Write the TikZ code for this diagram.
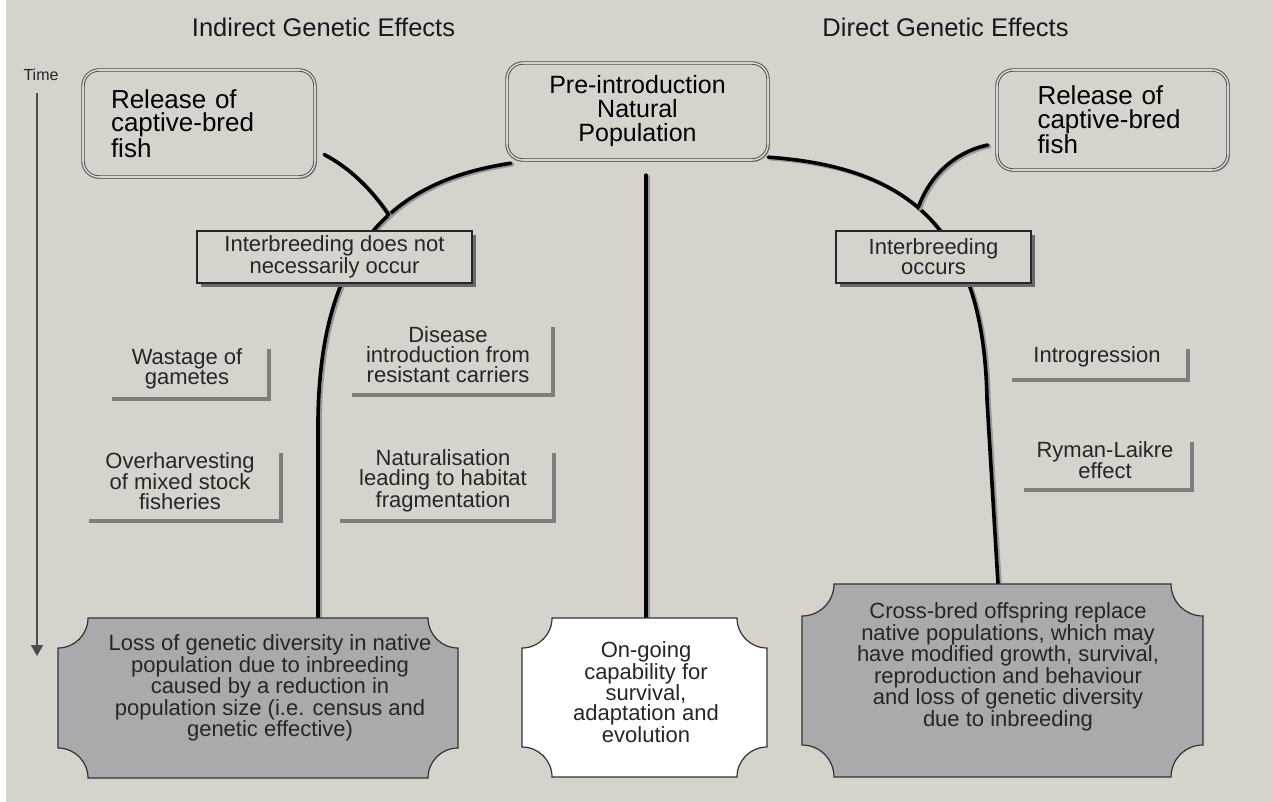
\documentclass[tikz,border=0pt]{standalone}
\usepackage{fontspec}
\setmainfont{Liberation Sans}
\usetikzlibrary{arrows.meta,calc,shadows}
\definecolor{bg}{RGB}{214,211,205}
\definecolor{boxgrey}{RGB}{170,170,172}
\definecolor{lgrey}{RGB}{128,126,122}
\definecolor{shad}{RGB}{105,105,105}
\newcommand\plaque[6]{\draw[plq,fill=#6] (#1+#5,#2) -- (#3-#5,#2) arc[start angle=180,end angle=90,radius=#5] -- (#3,#4-#5) arc[start angle=270,end angle=180,radius=#5] -- (#1+#5,#4) arc[start angle=0,end angle=-90,radius=#5] -- (#1,#2+#5) arc[start angle=90,end angle=0,radius=#5] -- cycle;}
\newcommand\conn[1]{\draw[cshadow] #1; \draw[conn] #1;}
\begin{document}
\begin{tikzpicture}[x=1pt,y=-1pt,
  title/.style={font=\fontsize{25.5}{28}\selectfont, text=black!90, inner sep=0pt},
  relbox/.style={draw=black!70, double=bg, double distance=1.6pt, line width=0.9pt, rounded corners=16pt, fill=bg, font=\fontsize{26}{23.5}\selectfont, inner sep=0pt, drop shadow={shadow xshift=2pt, shadow yshift=-2pt, fill=black!30, opacity=1}},
  ibox/.style={draw=black!85, line width=1.2pt, fill=bg, font=\fontsize{22}{20}\selectfont, align=center, inner sep=0pt, text=black!85, drop shadow={shadow xshift=4pt, shadow yshift=-4pt, fill=shad, opacity=1}},
  lbl/.style={font=\fontsize{22}{20}\selectfont, align=center, inner sep=0pt, text=black!85},
  lframe/.style={draw=lgrey, line width=4pt},
  conn/.style={line width=3.6pt, black, line cap=round},
  cshadow/.style={line width=3.6pt, black!40, line cap=round, transform canvas={xshift=2pt, yshift=-1.5pt}},
  plq/.style={draw=black!80, line width=1.2pt},
  btext/.style={font=\fontsize{22}{19.8}\selectfont, align=center, inner sep=0pt, text=black!85}
]
\fill[white] (0,0) rectangle (1273,802);
\fill[bg] (6,0) rectangle (1273,802);
\useasboundingbox (0,0) rectangle (1273,802);

% titles
\node[title] (tI) at (323.5,27) {Indirect Genetic Effects};
\node[title] (tD) at (945.5,27) {Direct Genetic Effects};

% time axis
\node[font=\fontsize{16}{18}\selectfont, text=black!85, inner sep=0pt] (time) at (41,75) {Time};
\coordinate (tend) at (37,656);
\draw[black!70, line width=1.3pt, -{Triangle[width=12pt,length=11pt]}] ($(time.south)+(-4,12)$) -- (tend);

% top boxes (placed first to name them; redrawn on top later)
\path (199,123.5) coordinate (relLc) (1112.5,120) coordinate (relRc) (637.5,111.5) coordinate (prec);
\path (relLc) node[minimum width=232pt, minimum height=107pt, inner sep=0pt] (relL) {}
      (relRc) node[minimum width=231pt, minimum height=100pt, inner sep=0pt] (relR) {}
      (prec) node[minimum width=261pt, minimum height=97pt, inner sep=0pt] (pre) {};

% bottom text nodes (names for connectors)
\path (270,688) node[minimum width=300pt, minimum height=140pt, inner sep=0pt] (lb) {}
      (646,692) node[minimum width=200pt, minimum height=148pt, inner sep=0pt] (cb) {}
      (1008,667) node[minimum width=300pt, minimum height=166pt, inner sep=0pt] (rb) {};

% trunks
\path ($(pre.south west)+(4,3)$) .. controls (400,180) and (320,240) .. (318,420) coordinate[pos=0.43] (jl);
\path ($(pre.south east)+(0,-3)$) .. controls (910,167) and (984,230) .. (987,400) coordinate[pos=0.45] (jr);

\conn{($(pre.south west)+(4,3)$) .. controls (400,180) and (320,240) .. (318,420) -- ($(lb.north)+(48,0)$)}
\conn{($(pre.south east)+(0,-3)$) .. controls (910,167) and (984,230) .. (987,400) -- ($(rb.north)+(-10,0)$)}
\conn{($(relL.east)+(9,31)$) .. controls (350,168) and (372,190) .. (jl)}
\conn{($(relR.west)+(-9,25)$) .. controls (955,152) and (930,175) .. (jr)}
\conn{($(pre.south)+(8.5,15)$) -- (cb.north)}

% top boxes
\node[relbox, minimum width=232pt, minimum height=107pt, text width=176pt, align=left] at (relLc) {Release of\\captive-bred\\fish};
\node[relbox, minimum width=231pt, minimum height=100pt, text width=150pt, align=left] at (relRc) {Release of\\captive-bred\\fish};
\node[relbox, minimum width=261pt, minimum height=97pt, align=center, font=\fontsize{25}{24}\selectfont] at (prec) {Pre-introduction\\Natural\\Population};

% interbreeding boxes
\node[ibox, minimum width=275pt, minimum height=52pt] (ibL) at (334.5,257) {Interbreeding does not\\necessarily occur};
\node[ibox, minimum width=195pt, minimum height=52pt] (ibR) at (933.5,257) {Interbreeding\\occurs};

% labels
\node[lbl] (wast) at (187,369) {Wastage of\\gametes};
\draw[lframe] (112,399) -| (269,349);
\node[lbl] (dis) at (448,355) {Disease\\introduction from\\resistant carriers};
\draw[lframe] (352,395) -| (553,327);
\node[lbl] (over) at (180,481) {Overharvesting\\of mixed stock\\fisheries};
\draw[lframe] (89,521) -| (281,453);
\node[lbl] (nat) at (443,481) {Naturalisation\\leading to habitat\\fragmentation};
\draw[lframe] (340,521) -| (554,453);
\node[lbl] (intro) at (1097,357) {Introgression};
\draw[lframe] (1012,380) -| (1188,349);
\node[lbl] (ryman) at (1105,460) {Ryman-Laikre\\effect};
\draw[lframe] (1024,490) -| (1192,442);

% bottom boxes
\plaque{58}{618}{458}{778}{30}{boxgrey}
\plaque{522}{618}{767}{777}{30}{white}
\plaque{802}{584}{1203}{777}{32}{boxgrey}
\node[btext] at (lb.center) {Loss of genetic diversity in native\\population due to inbreeding\\caused by a reduction in\\population size (i.e. census and\\genetic effective)};
\node[btext] at (cb.center) {On-going\\capability for\\survival,\\adaptation and\\evolution};
\node[btext] at (rb.center) {Cross-bred offspring replace\\native populations, which may\\have modified growth, survival,\\reproduction and behaviour\\and loss of genetic diversity\\due to inbreeding};
\end{tikzpicture}
\end{document}
